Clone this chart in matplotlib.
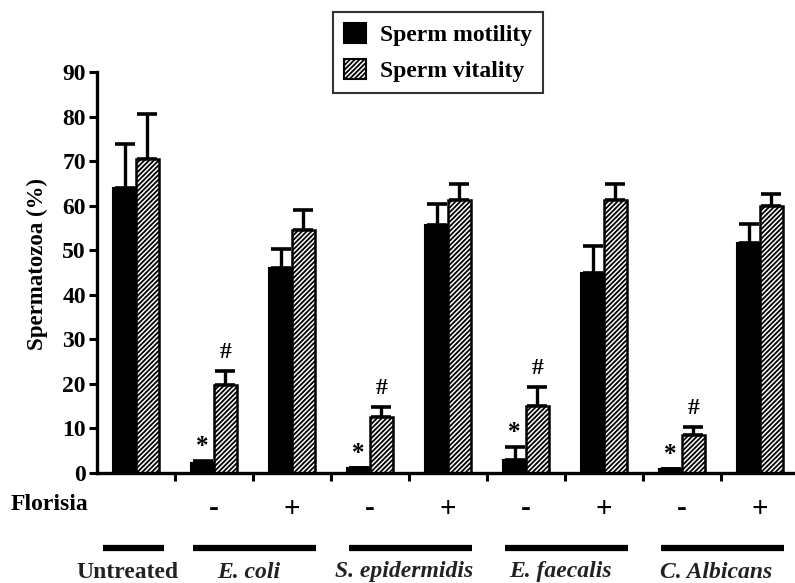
import numpy as np
import matplotlib
matplotlib.use('Agg')
import matplotlib.pyplot as plt
from matplotlib.patches import Patch
from matplotlib.transforms import blended_transform_factory

# values (%)
motility = [64.0, 2.2, 46.0, 1.2, 55.6, 3.0, 45.0, 1.0, 51.6]
motility_err = [9.8, 0.6, 4.3, 0.0, 4.8, 2.9, 6.0, 0.0, 4.3]
vitality = [70.5, 19.7, 54.5, 12.5, 61.3, 15.0, 61.3, 8.5, 59.9]
vitality_err = [10.1, 3.2, 4.5, 2.4, 3.6, 4.3, 3.6, 1.9, 2.7]
florisia = ['', '-', '+', '-', '+', '-', '+', '-', '+']
organisms = ['Untreated', 'E. coli', 'S. epidermidis', 'E. faecalis', 'C. Albicans']
organism_groups = [[0], [1, 2], [3, 4], [5, 6], [7, 8]]
star_groups = [1, 3, 5, 7]

plt.rcParams['font.family'] = ['Liberation Serif', 'DejaVu Serif']
plt.rcParams['font.weight'] = 'bold'
plt.rcParams['hatch.linewidth'] = 1.3

fig = plt.figure(figsize=(7.95, 5.83), dpi=100)
ax = fig.add_axes([97 / 795, 1 - 473 / 583, 698 / 795, (473 - 72) / 583])

x = np.arange(len(motility))
w = 0.29
ax.bar(x - w / 2, motility, w, color='black', edgecolor='black', lw=1.5, zorder=2)
ax.bar(x + w / 2, vitality, w, color='white', edgecolor='black', lw=1.8,
       hatch='///////', zorder=2)
ax.errorbar(x - w / 2, motility, yerr=[np.zeros(len(x)), motility_err], fmt='none',
            ecolor='black', elinewidth=2.4, capsize=7, capthick=2.6, zorder=1)
ax.errorbar(x + w / 2, vitality, yerr=[np.zeros(len(x)), vitality_err], fmt='none',
            ecolor='black', elinewidth=2.4, capsize=7, capthick=2.6, zorder=1)

for i in star_groups:
    ax.text(x[i] - w / 2, motility[i] + motility_err[i] + 0.6, '*', ha='center',
            va='bottom', fontsize=18, fontweight='bold')
    ax.text(x[i] + w / 2, vitality[i] + vitality_err[i] + 1.8, '#', ha='center',
            va='bottom', fontsize=17, fontweight='bold')

ax.set_xlim(-0.5, 8.45)
ax.set_ylim(0, 90)
ax.set_yticks(np.arange(0, 91, 10))
ax.set_xticks(np.arange(0.5, 8, 1))
ax.set_xticklabels([])
for s in ['top', 'right']:
    ax.spines[s].set_visible(False)
for s in ['left', 'bottom']:
    ax.spines[s].set_linewidth(2.4)
ax.tick_params(axis='both', direction='out', width=2.2, length=6, labelsize=17)
ax.tick_params(axis='y', pad=2)
for lab in ax.get_yticklabels():
    lab.set_fontweight('bold')
ax.set_ylabel('Spermatozoa (%)', fontsize=16.5, fontweight='bold')
ax.yaxis.set_label_coords(-0.07, 0.52)

# rows under the axis
tr = blended_transform_factory(ax.transData, fig.transFigure)
fig.text(11 / 795, 1 - 505 / 583, 'Florisia', ha='left', va='center',
         fontsize=17, fontweight='bold')
for i, s in enumerate(florisia):
    if s:
        ax.text(x[i], 1 - 509 / 583, s, transform=tr, ha='center', va='center',
                fontsize=21, fontweight='bold', clip_on=False)

for name, grp in zip(organisms, organism_groups):
    if len(grp) == 1:
        x0, x1 = grp[0] - 0.42, grp[0] + 0.36
    else:
        x0, x1 = grp[0] - 0.27, grp[-1] + 0.31
    ax.plot([x0, x1], [1 - 548 / 583] * 2, transform=tr, color='black', lw=4.5,
            solid_capstyle='butt', clip_on=False)
    style = 'normal' if name == 'Untreated' else 'italic'
    ax.text((x0 + x1) / 2 - 0.08, 1 - 572 / 583, name, transform=tr, ha='center',
            va='center', fontsize=17, fontweight='bold', style=style,
            color='#222222', clip_on=False)

handles = [Patch(facecolor='black', edgecolor='black', lw=1.5),
           Patch(facecolor='white', edgecolor='black', hatch='///////', lw=1.5)]
leg = fig.legend(handles, ['Sperm motility', 'Sperm vitality'], loc='upper left',
                 bbox_to_anchor=(333 / 795, 1 - 12 / 583), frameon=True,
                 fancybox=False, edgecolor='black', handlelength=0.95,
                 handleheight=0.95, handletextpad=0.6, labelspacing=0.55,
                 borderpad=0.45, borderaxespad=0, prop={'size': 17, 'weight': 'bold'})
leg.get_frame().set_linewidth(1.5)

fig.savefig('out.png', dpi=100)
